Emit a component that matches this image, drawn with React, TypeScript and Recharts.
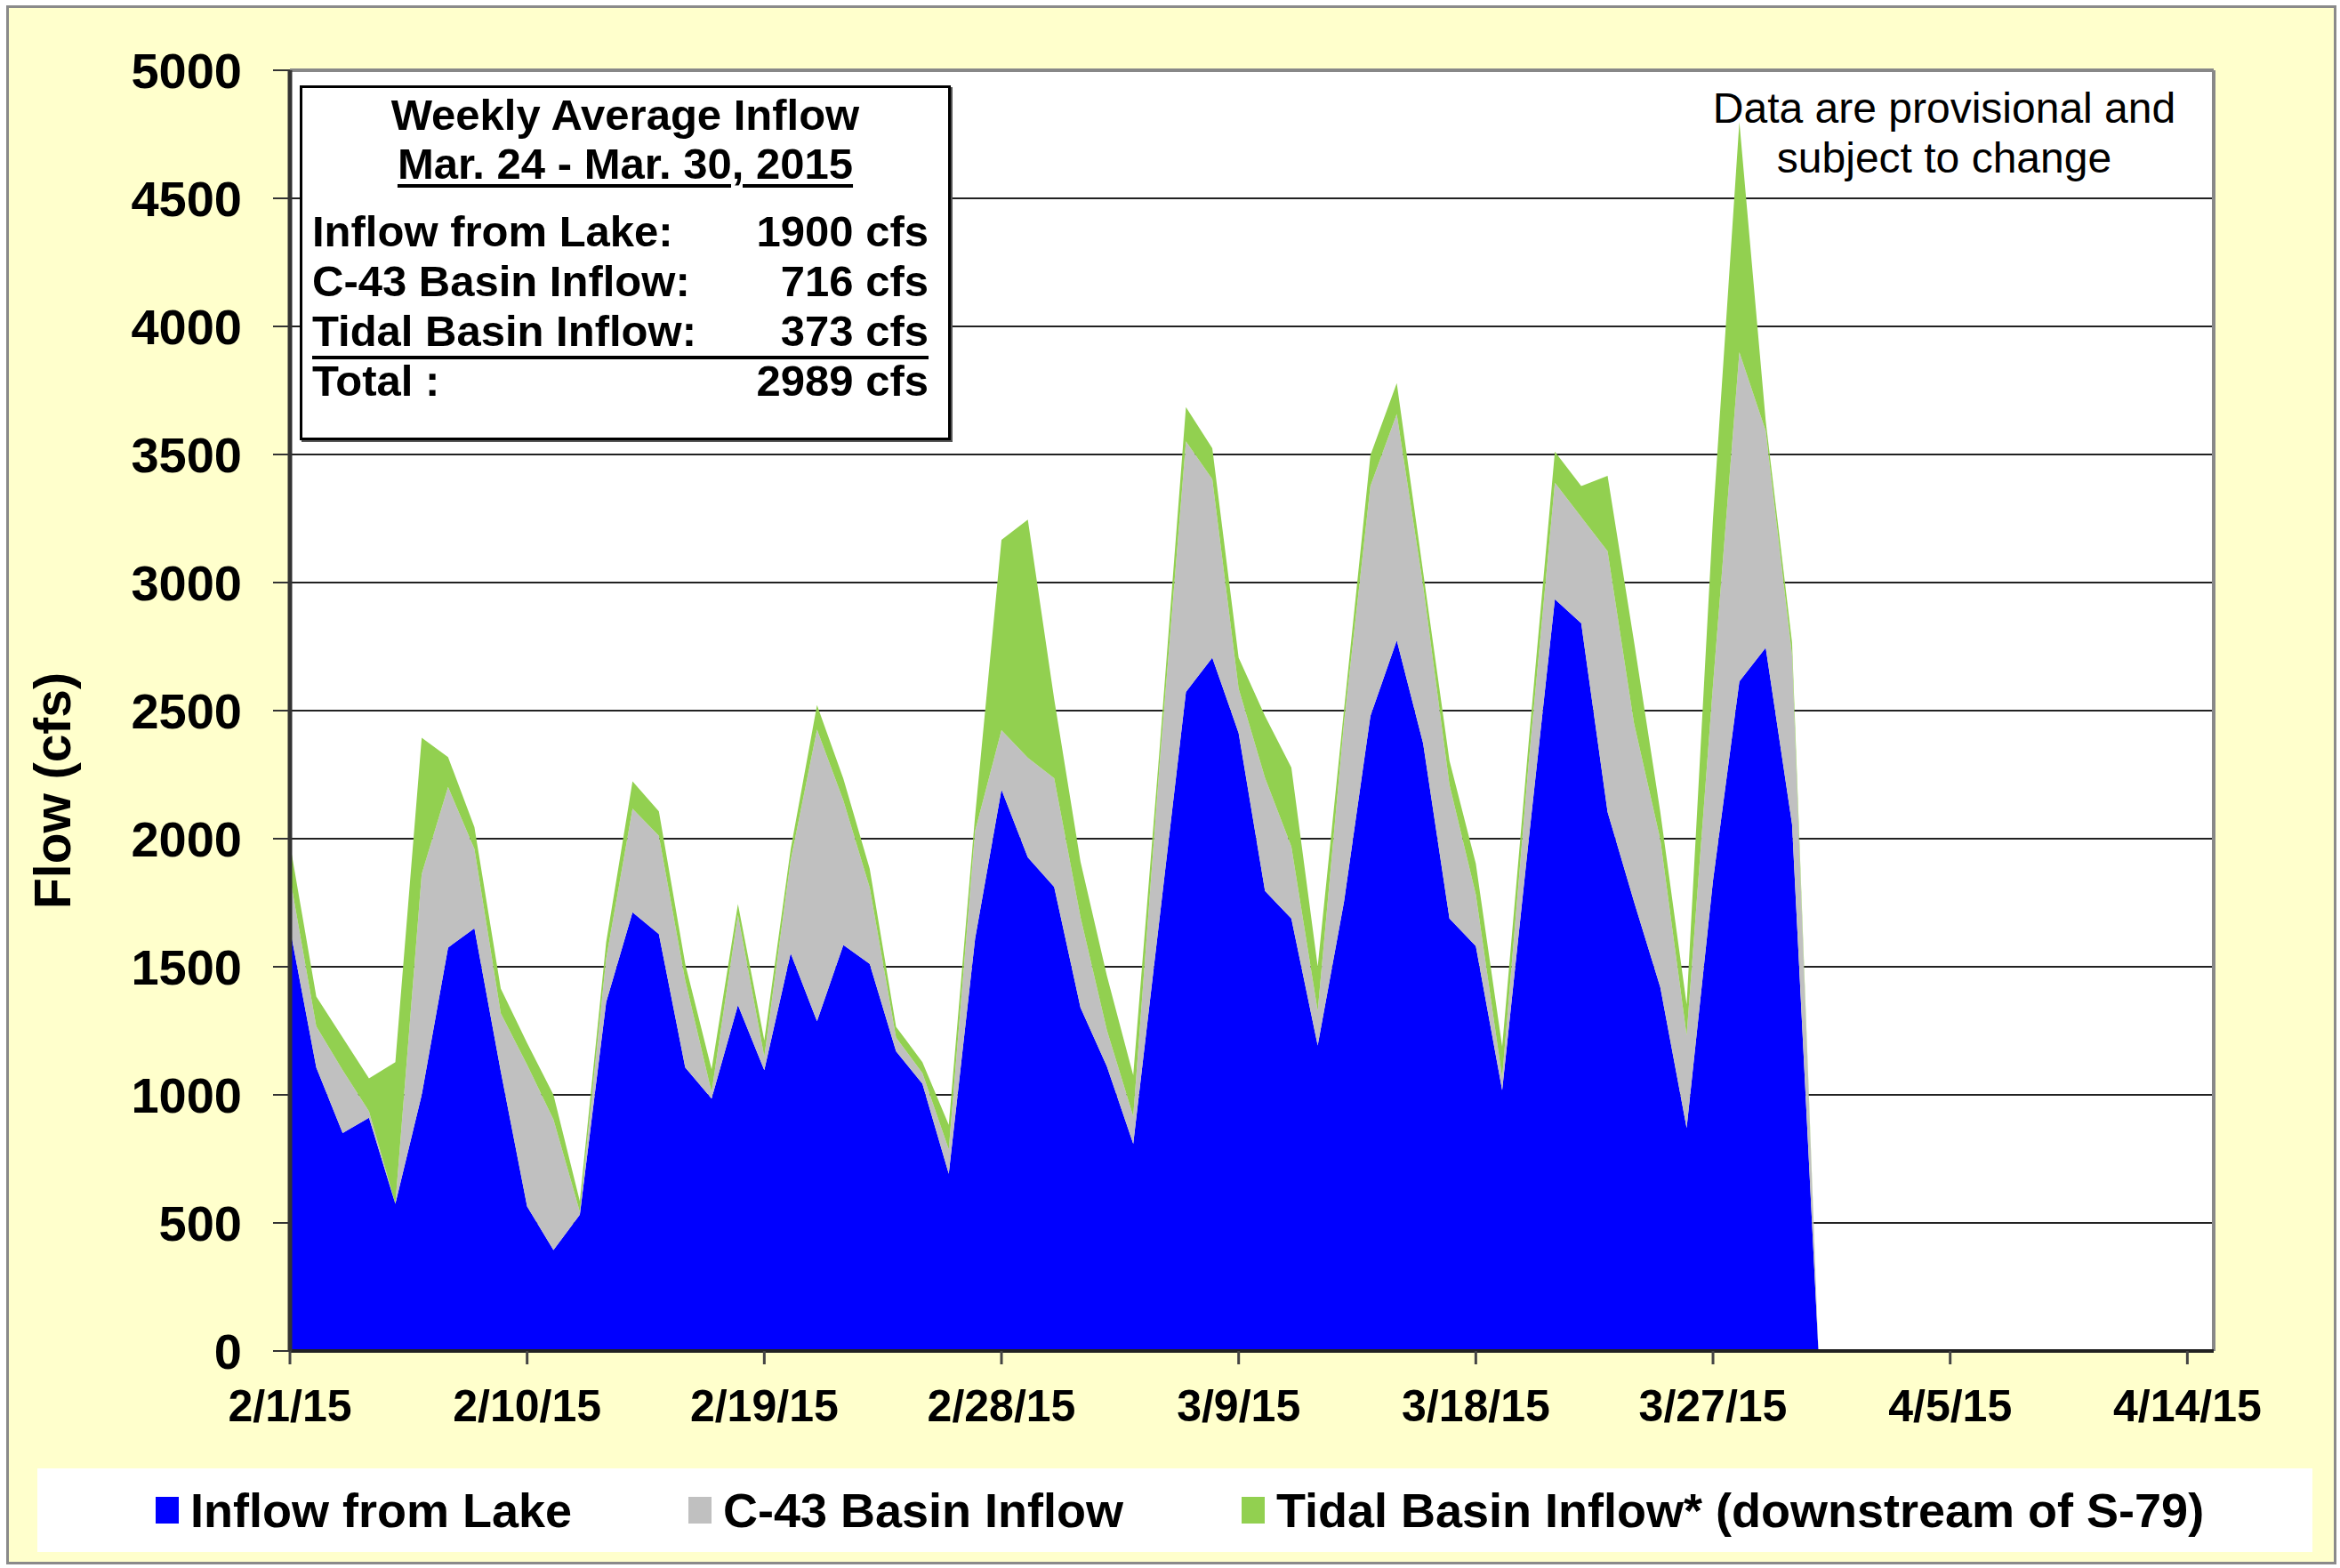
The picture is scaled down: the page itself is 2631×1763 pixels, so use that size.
import { AreaChart, Area, XAxis, YAxis, CartesianGrid, ReferenceLine } from 'recharts';

const FONT = '"Liberation Sans", Arial, sans-serif';

// daily values, 2/1/15 .. 3/31/15 (cfs)
const dates = [
  '2/1', '2/2', '2/3', '2/4', '2/5', '2/6', '2/7', '2/8', '2/9', '2/10',
  '2/11', '2/12', '2/13', '2/14', '2/15', '2/16', '2/17', '2/18', '2/19', '2/20',
  '2/21', '2/22', '2/23', '2/24', '2/25', '2/26', '2/27', '2/28', '3/1', '3/2',
  '3/3', '3/4', '3/5', '3/6', '3/7', '3/8', '3/9', '3/10', '3/11', '3/12',
  '3/13', '3/14', '3/15', '3/16', '3/17', '3/18', '3/19', '3/20', '3/21', '3/22',
  '3/23', '3/24', '3/25', '3/26', '3/27', '3/28', '3/29', '3/30', '3/31',
];

const lakeInflow = [
  1650, 1107, 851, 911, 575, 1000, 1575, 1650, 1092, 564,
  394, 532, 1362, 1713, 1628, 1107, 985, 1351, 1096, 1553,
  1287, 1585, 1511, 1170, 1043, 692, 1610, 2192, 1927, 1812,
  1340, 1111, 809, 1690, 2573, 2707, 2412, 1796, 1688, 1193,
  1755, 2479, 2774, 2372, 1688, 1581, 1018, 1990, 2935, 2841,
  2104, 1755, 1420, 871, 1836, 2614, 2746, 2056, 0,
];

const basinInflow = [
  200, 160, 245, 25, 0, 862, 627, 310, 227, 553,
  510, 11, 170, 404, 383, 340, 25, 351, 53, 362,
  1139, 564, 298, 54, 42, 95, 420, 232, 389, 424,
  354, 142, 107, 600, 978, 697, 174, 442, 282, 134,
  700, 898, 884, 616, 523, 201, 50, 300, 455, 415,
  1018, 697, 577, 362, 764, 1285, 846, 660, 0,
];

const tidalInflow = [
  130, 117, 128, 128, 553, 532, 117, 85, 96, 85,
  96, 42, 64, 107, 96, 64, 90, 43, 64, 43,
  96, 85, 74, 42, 43, 96, 60, 743, 930, 309,
  216, 212, 160, 60, 134, 120, 121, 241, 308, 174,
  50, 120, 121, 54, 94, 121, 120, 80, 121, 121,
  295, 320, 107, 120, 650, 900, 40, 50, 0,
];

const tickDays = [0, 9, 18, 27, 36, 45, 54, 63, 72];
const tickLabels = ['2/1/15', '2/10/15', '2/19/15', '2/28/15', '3/9/15', '3/18/15', '3/27/15', '4/5/15', '4/14/15'];
const yTicks = [0, 500, 1000, 1500, 2000, 2500, 3000, 3500, 4000, 4500, 5000];

const seriesNames = ['Inflow from Lake', 'C-43 Basin Inflow', 'Tidal Basin Inflow* (downstream of S-79)'];
const seriesColors = ['#0000FF', '#C0C0C0', '#92D050'];

const summaryRows = [
  ['Inflow from Lake:', '1900 cfs'],
  ['C-43 Basin Inflow:', '716 cfs'],
  ['Tidal Basin Inflow:', '373 cfs'],
  ['Total :', '2989 cfs'],
];

const data = dates.map((date, i) => ({
  day: i,
  date,
  lake: lakeInflow[i],
  basin: basinInflow[i],
  tidal: tidalInflow[i],
}));

export default function App() {
  return (
    <div style={{ position: 'absolute', left: 0, top: 0, width: 2631, height: 1763, background: '#fff', fontFamily: FONT }}>
      <div style={{ position: 'absolute', left: 7, top: 6, right: 4, bottom: 4, background: '#FFFFCC', border: '3px solid #8a8a8a' }} />

      <div style={{ position: 'absolute', left: 0, top: 0 }}>
        <AreaChart width={2631} height={1763} data={data} margin={{ top: 79, right: 142, left: 0, bottom: 144 }}>
          <CartesianGrid horizontal vertical={false} stroke="#222" strokeWidth={2} fill="#fff" fillOpacity={1} />
          <XAxis
            dataKey="day"
            type="number"
            domain={[0, 73]}
            ticks={tickDays}
            interval={0}
            height={100}
            tickFormatter={(v) => tickLabels[tickDays.indexOf(v)] ?? ''}
            tick={{ fontSize: 50, fontWeight: 'bold', fill: '#000', fontFamily: FONT }}
            tickSize={15}
            tickMargin={28}
            axisLine={{ stroke: '#222', strokeWidth: 4 }}
            tickLine={{ stroke: '#444', strokeWidth: 3 }}
          />
          <YAxis
            type="number"
            domain={[0, 5000]}
            ticks={yTicks}
            interval={0}
            width={326}
            tick={{ fontSize: 56, fontWeight: 'bold', fill: '#000', fontFamily: FONT }}
            tickSize={19}
            tickMargin={35}
            axisLine={{ stroke: '#333', strokeWidth: 5 }}
            tickLine={{ stroke: '#333', strokeWidth: 2 }}
          />
          <ReferenceLine y={5000} stroke="#888" strokeWidth={4} />
          <ReferenceLine x={73} stroke="#888" strokeWidth={4} />
          <Area type="linear" dataKey="lake" stackId="1" stroke="none" fill={seriesColors[0]} fillOpacity={1} isAnimationActive={false} />
          <Area type="linear" dataKey="basin" stackId="1" stroke="none" fill={seriesColors[1]} fillOpacity={1} isAnimationActive={false} />
          <Area type="linear" dataKey="tidal" stackId="1" stroke="none" fill={seriesColors[2]} fillOpacity={1} isAnimationActive={false} />
        </AreaChart>
      </div>

      {/* axis title */}
      <div style={{
        position: 'absolute', left: 59, top: 889, transform: 'translate(-50%, -50%) rotate(-90deg)',
        fontSize: 57, fontWeight: 'bold', whiteSpace: 'nowrap',
      }}>Flow (cfs)</div>

      {/* weekly average box */}
      <div style={{
        position: 'absolute', left: 337, top: 96, width: 726, height: 393, background: '#fff',
        border: '3px solid #000', boxShadow: '2px 2px 0 #555',
      }}>
        <div style={{ position: 'absolute', left: 0, right: 0, top: 3, textAlign: 'center', fontSize: 49, fontWeight: 'bold', lineHeight: '55px' }}>
          Weekly Average Inflow
        </div>
        <div style={{ position: 'absolute', left: 0, right: 0, top: 58, textAlign: 'center', fontSize: 49, fontWeight: 'bold', lineHeight: '55px' }}>
          <span style={{ textDecoration: 'underline', textDecorationThickness: 4, textUnderlineOffset: 6 }}>Mar. 24 - Mar. 30, 2015</span>
        </div>
        {summaryRows.map(([label, value], i) => (
          <div key={label} style={{
            position: 'absolute', left: 11, width: 693, top: 134 + i * 56, height: 55,
            display: 'flex', justifyContent: 'space-between', alignItems: 'center',
            fontSize: 49, fontWeight: 'bold', lineHeight: '55px',
            borderBottom: i === 2 ? '4px solid #000' : 'none',
          }}>
            <span>{label}</span>
            <span>{value}</span>
          </div>
        ))}
      </div>

      {/* note */}
      <div style={{ position: 'absolute', left: 1886, width: 600, top: 94, textAlign: 'center', fontSize: 48, lineHeight: '56px', color: '#000' }}>
        Data are provisional and<br />subject to change
      </div>

      {/* legend */}
      <div style={{ position: 'absolute', left: 42, top: 1651, width: 2558, height: 94, background: '#fff' }}>
        {seriesNames.map((name, i) => (
          <div key={name} style={{
            position: 'absolute', left: [133, 732, 1354][i], top: 0, height: 94,
            display: 'flex', alignItems: 'center', fontSize: 54, fontWeight: 'bold', whiteSpace: 'nowrap',
          }}>
            <span style={{ display: 'inline-block', width: 26, height: 30, background: seriesColors[i], marginRight: 13 }} />
            {name}
          </div>
        ))}
      </div>
    </div>
  );
}
